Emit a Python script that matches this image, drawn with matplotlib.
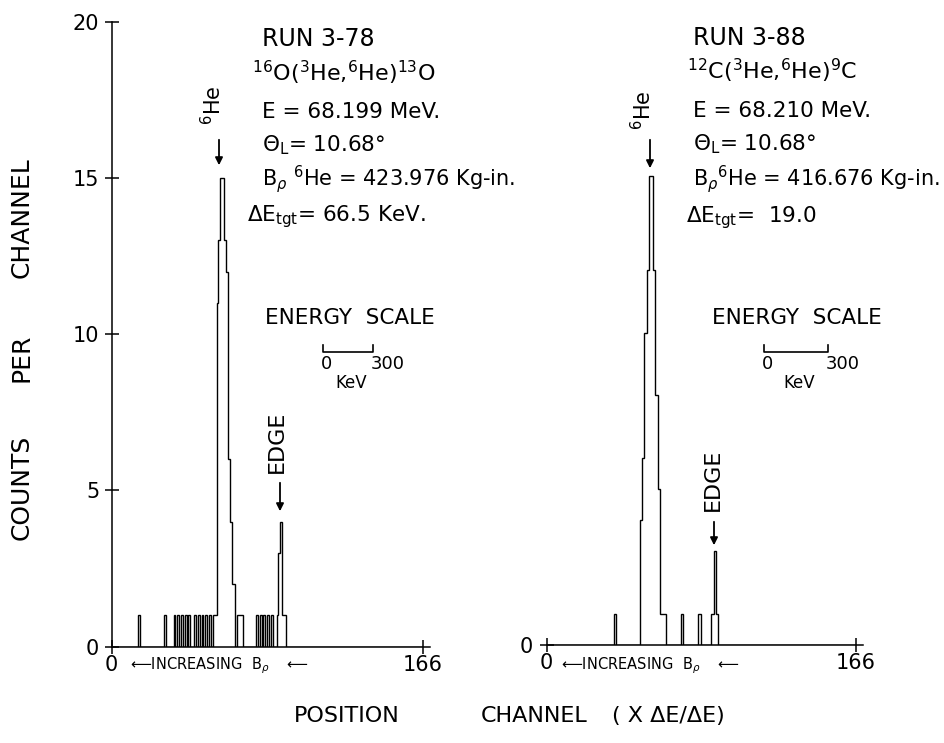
import numpy as np
import matplotlib
matplotlib.use("Agg")
import matplotlib.pyplot as plt

plt.rcParams['font.family'] = ['DejaVu Sans']
plt.rcParams['mathtext.fontset'] = 'dejavusans'

# ---------------- data ----------------
n_channels = 166
x_ticks = [0, 166]
y_ticks = [0, 5, 10, 15, 20]

# RUN 3-78  16O(3He,6He)13O : non-empty channels and their counts
run378_channels = [14, 28, 33, 35, 37, 39, 41, 44, 46, 48, 50, 52, 54, 55,
                   56, 57, 58, 59, 60, 61, 62, 63, 64, 65,
                   67, 68, 69, 77, 79, 81, 83, 85, 88, 89, 90, 91, 92]
run378_counts = [1, 1, 1, 1, 1, 1, 1, 1, 1, 1, 1, 1, 1, 1,
                 11, 13, 15, 15, 13, 12, 6, 4, 2, 2,
                 1, 1, 1, 1, 1, 1, 1, 1, 1, 3, 4, 1, 1]

# RUN 3-88  12C(3He,6He)9C
run388_channels = [36, 50, 51, 52, 53, 54, 55, 56, 57, 58, 59, 60, 61, 62, 63,
                   72, 81, 82, 88, 89, 90, 91]
run388_counts = [1, 4, 6, 10, 10, 12, 15, 15, 12, 8, 8, 5, 1, 1, 1,
                 1, 1, 1, 1, 1, 3, 1]

# ---------------- figure ----------------
W, H = 945, 743
fig = plt.figure(figsize=(W / 100, H / 100), dpi=100)


def fx(px):
    return px / W


def fy(py):
    return 1 - py / H


XMAX = 170
px_per_count = 31.25
left_x0, left_scale, left_base = 111.7, 1.873, 646.7
right_x0, right_scale, right_base = 546.7, 1.863, 645.0

axL = fig.add_axes([fx(left_x0), fy(left_base), XMAX * left_scale / W, 20 * px_per_count / H])
axR = fig.add_axes([fx(right_x0), fy(right_base), XMAX * right_scale / W, 20 * px_per_count / H])

edges = np.arange(n_channels + 1)
for ax, chans, cnts in ((axL, run378_channels, run378_counts),
                        (axR, run388_channels, run388_counts)):
    full = np.zeros(n_channels)
    full[chans] = cnts
    ax.stairs(full, edges, color='black', lw=1.0)
    ax.set_xlim(0, XMAX)
    ax.set_ylim(0, 20)
    ax.set_facecolor('none')
    for s in ('top', 'right'):
        ax.spines[s].set_visible(False)
    for s in ('left', 'bottom'):
        ax.spines[s].set_linewidth(1.1)
    ax.set_xticks(x_ticks)
    ax.set_xticklabels([str(t) for t in x_ticks])
    ax.tick_params(axis='both', direction='inout', length=10, width=1.1,
                   labelsize=15)
    ax.tick_params(axis='x', pad=1)
    ax.tick_params(axis='y', pad=4)

axL.set_yticks(y_ticks)
axL.set_yticklabels([str(t) for t in y_ticks])
axR.spines['left'].set_visible(False)
axR.set_yticks([0])
axR.set_yticklabels(['0'])
axR.tick_params(axis='y', pad=5)


def T(x, y, s, size=16, ha='left', va='baseline', rot=0):
    fig.text(fx(x), fy(y), s, fontsize=size, ha=ha, va=va, rotation=rot)


# ---------------- annotations, left panel ----------------
T(262, 46, "RUN 3-78", 17)
T(252, 81, r"$^{16}$O($^{3}$He,$^{6}$He)$^{13}$O", 16)
T(262, 118, "E = 68.199 MeV.", 15.5)
T(262, 151, r"Θ$_\mathrm{L}$= 10.68°", 15.5)
T(262, 186, r"B$_\rho$ $^{6}$He = 423.976 Kg-in.", 15)
T(247, 221, r"ΔE$_\mathrm{tgt}$= 66.5 KeV.", 15.5)

# ---------------- annotations, right panel ----------------
T(693, 45, "RUN 3-88", 17)
T(687, 79, r"$^{12}$C($^{3}$He,$^{6}$He)$^{9}$C", 16)
T(693, 117, "E = 68.210 MeV.", 15.5)
T(693, 150, r"Θ$_\mathrm{L}$= 10.68°", 15.5)
T(693, 186, r"B$_\rho$$^{6}$He = 416.676 Kg-in.", 15)
T(686, 222, r"ΔE$_\mathrm{tgt}$=  19.0", 15.5)

# peak labels and arrows
arrow_kw = dict(arrowstyle='-|>', color='black', lw=1.3, mutation_scale=11)
for (tx, ty, ax_, y0, y1) in ((213, 105, 219, 137, 168), (643, 110, 650, 137, 171)):
    T(tx, ty, r"$^{6}$He", 15, ha='center', va='center', rot=90)
    fig.add_artist(matplotlib.patches.FancyArrowPatch(
        (fx(ax_), fy(y0)), (fx(ax_), fy(y1)), transform=fig.transFigure, **arrow_kw))

for (tx, ty, ax_, y0, y1) in ((277, 442, 280, 480, 514), (713, 480, 714, 519, 548)):
    T(tx, ty, "EDGE", 16, ha='center', va='center', rot=90)
    fig.add_artist(matplotlib.patches.FancyArrowPatch(
        (fx(ax_), fy(y0)), (fx(ax_), fy(y1)), transform=fig.transFigure, **arrow_kw))

# energy scale
for (cx, x0, x1) in ((350, 323, 373), (797, 764, 828)):
    T(cx, 318, "ENERGY  SCALE", 15.5, ha='center', va='center')
    fig.add_artist(plt.Line2D([fx(x0), fx(x0), fx(x1), fx(x1)],
                              [fy(345), fy(352), fy(352), fy(345)],
                              transform=fig.transFigure, color='black', lw=1.2))
    T(x0 + 4, 364, "0", 13, ha='center', va='center')
    T(x1 + 15, 364, "300", 13, ha='center', va='center')
    T((x0 + x1) / 2 + 3, 383, "KeV", 12, ha='center', va='center')

# increasing B-rho
T(130, 666, r"⟵INCREASING  B$_\rho$    ⟵", 10.5, va='center')
T(561, 666, r"⟵INCREASING  B$_\rho$    ⟵", 10.5, va='center')

# axis titles
T(22, 487, "COUNTS", 18, ha='center', va='center', rot=90)
T(22, 358, "PER", 18, ha='center', va='center', rot=90)
T(22, 218, "CHANNEL", 18, ha='center', va='center', rot=90)
T(347, 716, "POSITION", 16, ha='center', va='center')
T(534, 716, "CHANNEL", 16, ha='center', va='center')
T(668, 716, "( X ΔE/ΔE)", 16, ha='center', va='center')

fig.savefig("out.png", dpi=100)
